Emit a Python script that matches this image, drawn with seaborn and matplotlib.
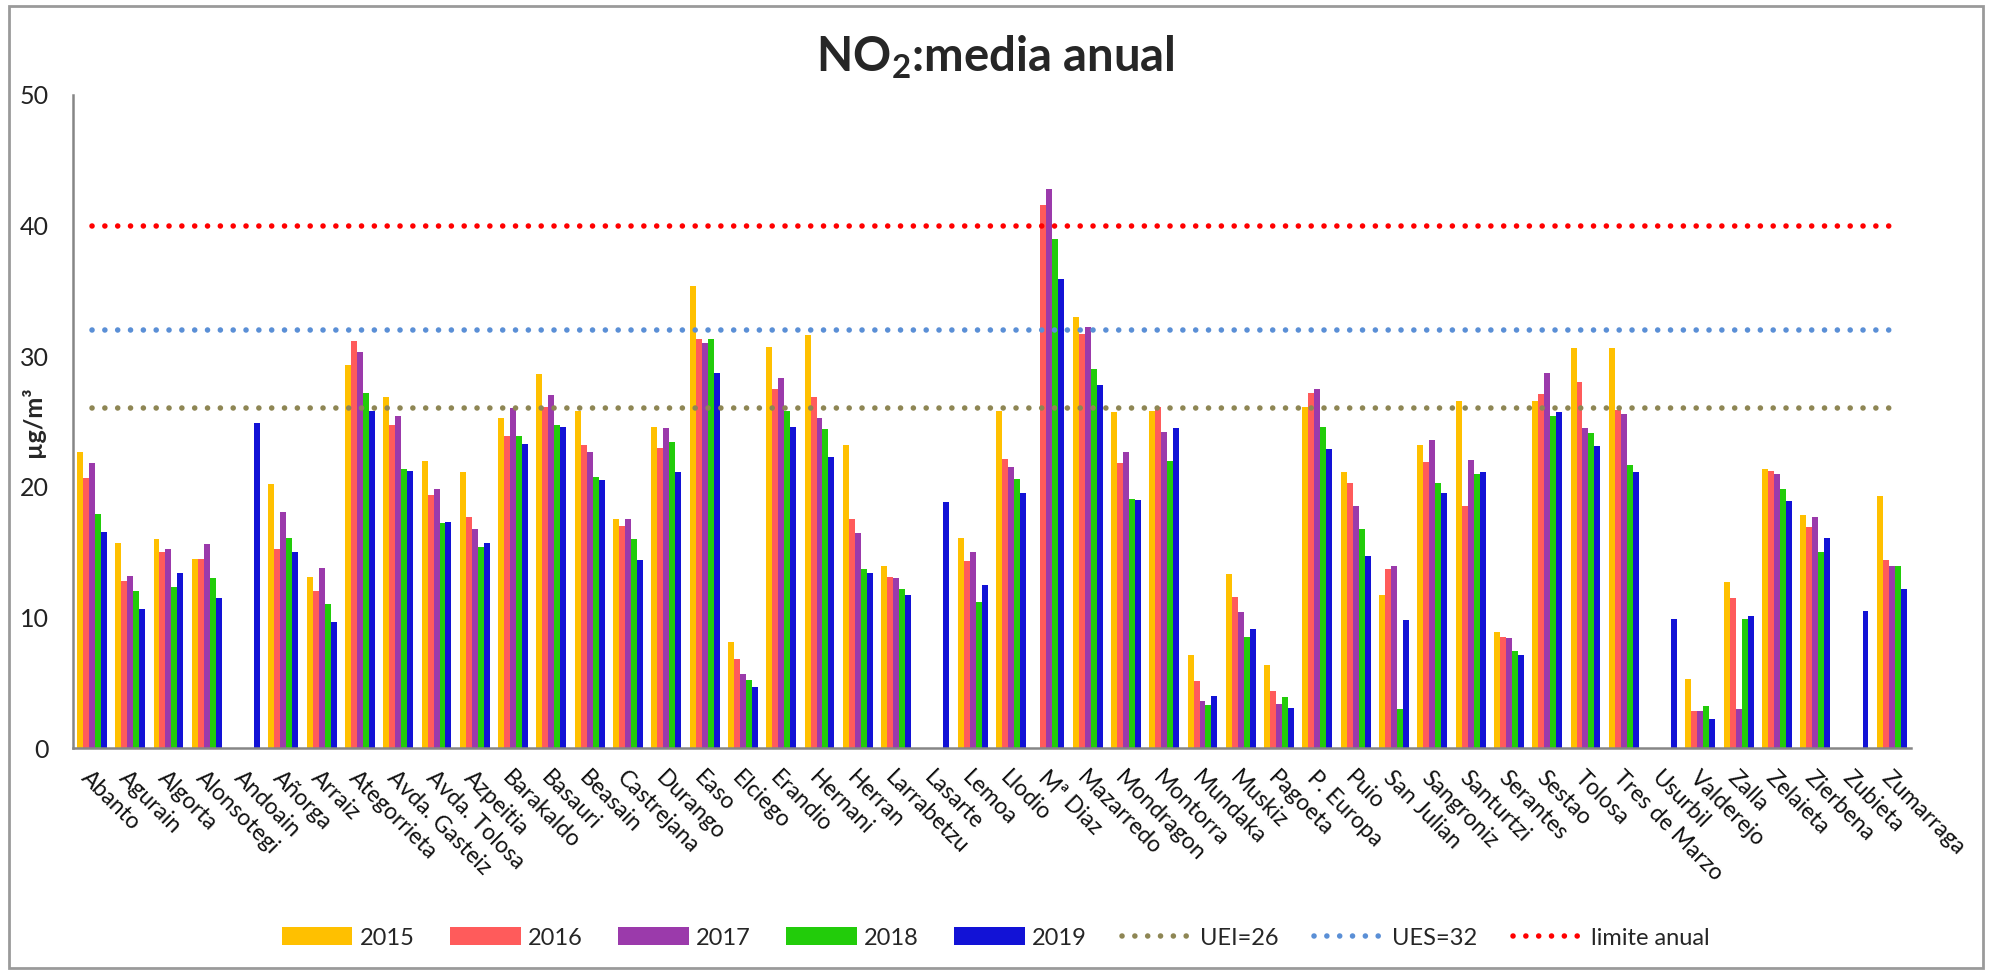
import numpy as np
import pandas as pd
import matplotlib
matplotlib.use("Agg")
import matplotlib.pyplot as plt
from matplotlib.patches import Rectangle
import seaborn as sns

nan = np.nan
categories = ["Abanto", "Agurain", "Algorta", "Alonsotegi", "Andoain", "Añorga", "Arraiz",
              "Ategorrieta", "Avda. Gasteiz", "Avda. Tolosa", "Azpeitia", "Barakaldo", "Basauri",
              "Beasain", "Castrejana", "Durango", "Easo", "Elciego", "Erandio", "Hernani", "Herran",
              "Larrabetzu", "Lasarte", "Lemoa", "Llodio", "Mª Diaz", "Mazarredo", "Mondragon",
              "Montorra", "Mundaka", "Muskiz", "Pagoeta", "P. Europa", "Puio", "San Julian",
              "Sangroniz", "Santurtzi", "Serantes", "Sestao", "Tolosa", "Tres de Marzo", "Usurbil",
              "Valderejo", "Zalla", "Zelaieta", "Zierbena", "Zubieta", "Zumarraga"]

v2015 = [22.7, 15.7, 16.0, 14.5, nan, 20.2, 13.1, 29.3, 26.9, 22.0, 21.1, 25.3, 28.6, 25.8, 17.5,
         24.6, 35.4, 8.1, 30.7, 31.6, 23.2, 13.9, nan, 16.1, 25.8, nan, 33.0, 25.7, 25.8, 7.1, 13.3,
         6.35, 26.1, 21.1, 11.7, 23.2, 26.6, 8.9, 26.6, 30.6, 30.6, nan, 5.3, 12.7, 21.4, 17.85, nan, 19.3]
v2016 = [20.7, 12.8, 15.0, 14.5, nan, 15.2, 12.0, 31.2, 24.7, 19.4, 17.7, 23.9, 26.1, 23.2, 17.0,
         23.0, 31.3, 6.8, 27.5, 26.9, 17.5, 13.1, nan, 14.3, 22.1, 41.6, 31.7, 21.8, 26.1, 5.1, 11.6,
         4.4, 27.2, 20.3, 13.7, 21.9, 18.5, 8.5, 27.1, 28.05, 25.85, nan, 2.8, 11.5, 21.2, 16.96, nan, 14.4]
v2017 = [21.8, 13.2, 15.25, 15.6, nan, 18.1, 13.8, 30.3, 25.4, 19.8, 16.8, 26.0, 27.0, 22.7, 17.5,
         24.5, 31.0, 5.7, 28.3, 25.3, 16.45, 13.0, nan, 15.0, 21.5, 42.8, 32.25, 22.7, 24.2, 3.6, 10.4,
         3.4, 27.5, 18.5, 13.9, 23.6, 22.05, 8.4, 28.7, 24.5, 25.6, nan, 2.8, 3.0, 20.95, 17.7, nan, 13.9]
v2018 = [17.9, 12.0, 12.3, 13.0, nan, 16.1, 11.0, 27.2, 21.4, 17.2, 15.4, 23.9, 24.7, 20.75, 16.0,
         23.4, 31.3, 5.2, 25.8, 24.4, 13.7, 12.15, nan, 11.2, 20.6, 39.0, 29.0, 19.1, 22.0, 3.3, 8.5,
         3.9, 24.6, 16.8, 3.0, 20.3, 21.0, 7.4, 25.4, 24.1, 21.7, nan, 3.2, 9.9, 19.8, 15.0, nan, 13.9]
v2019 = [16.55, 10.65, 13.4, 11.5, 24.9, 15.0, 9.66, 25.8, 21.2, 17.3, 15.7, 23.3, 24.6, 20.5, 14.4,
         21.1, 28.7, 4.7, 24.6, 22.25, 13.4, 11.75, 18.8, 12.5, 19.5, 35.9, 27.8, 19.0, 24.5, 4.0, 9.1,
         3.1, 22.9, 14.7, 9.8, 19.5, 21.1, 7.1, 25.7, 23.1, 21.1, 9.9, 2.25, 10.1, 18.9, 16.1, 10.5, 12.15]

years = ["2015", "2016", "2017", "2018", "2019"]
year_colors = ["#FFC000", "#FF5B5B", "#9B3AAB", "#22CC0A", "#1212D6"]

uei_value = 26
ues_value = 32
limite_value = 40
threshold_labels = ["UEI=26", "UES=32", "limite anual"]
threshold_colors = ["#8E8654", "#5A8FD6", "#FF0000"]

yticks = [0, 10, 20, 30, 40, 50]

# ---- build long table ----
series = [v2015, v2016, v2017, v2018, v2019]
rows = []
for yr, vals in zip(years, series):
    for c, v in zip(categories, vals):
        rows.append({"station": c, "year": yr, "value": v})
df = pd.DataFrame(rows)

sns.set_theme(style="white")
plt.rcParams["font.family"] = ["Lato", "DejaVu Sans"]
plt.rcParams["mathtext.fontset"] = "custom"
plt.rcParams["mathtext.rm"] = "Lato"
plt.rcParams["mathtext.bf"] = "Lato:bold"

fig = plt.figure(figsize=(19.91, 9.72), dpi=100)
ax = fig.add_axes([72.7 / 1991, 1 - 748 / 972, (1911 - 72.7) / 1991, (748 - 95) / 972])

sns.barplot(data=df, x="station", y="value", hue="year", order=categories, hue_order=years,
            palette=year_colors, saturation=1, errorbar=None, width=0.78, ax=ax, linewidth=0)

xpos = np.arange(len(categories))
for val, lab, col in zip([uei_value, ues_value, limite_value], threshold_labels, threshold_colors):
    ax.plot(xpos, [val] * len(categories), color=col, lw=4.0, linestyle=(0, (0.01, 2.3)),
            dash_capstyle="round", label=lab, zorder=3)

ax.set_xlim(-0.5, len(categories) - 0.5)
ax.set_ylim(0, 50)
ax.set_yticks(yticks)
ax.set_yticklabels([str(t) for t in yticks], fontsize=18, color="#222222")
ax.tick_params(axis="y", length=0, pad=17)

ax.set_xticks(xpos)
ax.set_xticklabels(categories, rotation=-45, ha="left", va="top", rotation_mode="anchor",
                   fontsize=16.5, color="#111111")
ax.tick_params(axis="x", which="major", length=0, pad=14)
ax.set_xticks(np.arange(-0.5, len(categories), 1.0), minor=True)
ax.tick_params(axis="x", which="minor", length=7, width=1.5, color="#868686", direction="out")

for s in ["top", "right"]:
    ax.spines[s].set_visible(False)
for s in ["left", "bottom"]:
    ax.spines[s].set_color("#868686")
    ax.spines[s].set_linewidth(1.8)

ax.set_xlabel("")
ax.set_ylabel("µg/m³", fontsize=18, fontweight="bold", labelpad=10)
ax.yaxis.set_label_coords(-0.015, 0.5)

handles, labels = ax.get_legend_handles_labels()
if ax.get_legend() is not None:
    ax.get_legend().remove()
fig.legend(handles, labels, loc="center", bbox_to_anchor=(0.5, 1 - 938 / 972), ncol=8,
           frameon=False, fontsize=17, handlelength=3.0, handleheight=0.8,
           handletextpad=0.3, columnspacing=1.5)

fig.text(0.5, 1 - 57 / 972, r"NO$_\mathbf{2}$:media anual", ha="center", va="center",
         fontsize=34, fontweight="bold")

fig.patches.append(Rectangle((9 / 1991, 1 - 968 / 972), (1983 - 9) / 1991, (968 - 6) / 972,
                             transform=fig.transFigure, fill=False, edgecolor="#9A9A9A", lw=2))

fig.savefig("out.png", dpi=100, facecolor="white")
